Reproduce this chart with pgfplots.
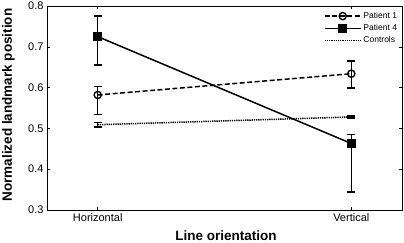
\documentclass[border=0pt]{standalone}
\usepackage{fontspec}
\setmainfont{Liberation Sans}
\usepackage{pgfplots}
\pgfplotsset{compat=1.18}
\begin{document}
\begin{tikzpicture}
\begin{axis}[
 scale only axis, width=355pt, height=204pt,
 xmin=-0.2, xmax=1.2, ymin=0.3, ymax=0.8,
 xtick={0,1}, xticklabels={Horizontal,Vertical},
 ytick={0.3,0.4,0.5,0.6,0.7,0.8},
 yticklabel style={/pgf/number format/.cd, fixed, fixed zerofill, precision=1, assume math mode=true},
 tick align=inside, major tick length=3pt,
 tick style={black, line width=0.6pt},
 tick label style={font=\fontsize{11}{13}\selectfont},
 xlabel={Line orientation}, ylabel={Normalized landmark position},
 label style={font=\fontsize{13.5}{15}\selectfont\bfseries},
 ylabel style={at={(axis description cs:-0.1085,0.515)}, anchor=center},
 xlabel style={at={(axis description cs:0.504,-0.125)}, anchor=center},
 axis line style={line width=0.8pt},
 legend style={draw=none, fill=none, at={(0.995,0.985)}, anchor=north east, font=\fontsize{8.5}{9}\selectfont, row sep=0.5pt, inner sep=1pt},
 legend cell align=left,
 legend image code/.code={\draw[mark repeat=2,mark phase=2,#1] plot coordinates {(0pt,0pt) (18pt,0pt) (36pt,0pt)};},
 error bars/error bar style={line width=1.5pt, solid},
 error bars/error mark options={rotate=90, mark size=4pt, line width=1.5pt, solid},
]
\addplot[black, line width=1.5pt, dash pattern=on 5pt off 2.5pt, mark=o, mark size=3.6pt, mark options={solid, fill=white, line width=1.4pt},
  error bars/.cd, y dir=both, y explicit]
 coordinates {
 (0,0.582) += (0,0.021) -= (0,0.048)
 (1,0.634) += (0,0.031) -= (0,0.035)
 };
\addlegendentry{Patient 1}
\addplot[black, line width=1.5pt, mark=square*, mark size=3.8pt, mark options={solid},
  error bars/.cd, y dir=both, y explicit]
 coordinates {
 (0,0.725) += (0,0.051) -= (0,0.070)
 (1,0.463) += (0,0.022) -= (0,0.119)
 };
\addlegendentry{Patient 4}
\addplot[black, line width=1.5pt, dash pattern=on 1.3pt off 0.9pt, mark=none,
  error bars/.cd, y dir=both, y explicit]
 coordinates {
 (0,0.509) += (0,0.005) -= (0,0.005)
 (1,0.528) += (0,0.003) -= (0,0.003)
 };
\addlegendentry{Controls}
\end{axis}
\pgfresetboundingbox
\useasboundingbox (-47pt,-33pt) rectangle (357pt,210pt);
\end{tikzpicture}
\end{document}
